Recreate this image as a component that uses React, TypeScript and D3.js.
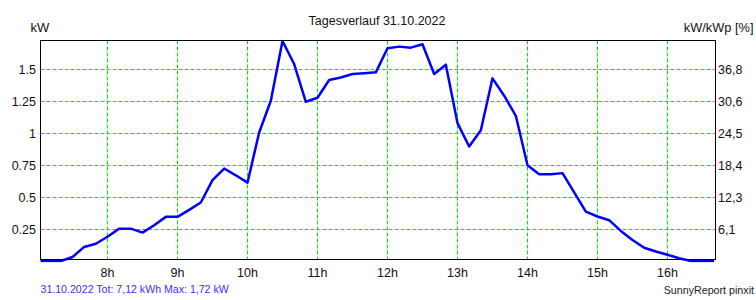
import React from "react";
import * as d3 from "d3";

const times = [
  "7:00","7:10","7:20","7:30","7:40","7:50",
  "8:00","8:10","8:20","8:30","8:40","8:50",
  "9:00","9:10","9:20","9:30","9:40","9:50",
  "10:00","10:10","10:20","10:30","10:40","10:50",
  "11:00","11:10","11:20","11:30","11:40","11:50",
  "12:00","12:10","12:20","12:30","12:40","12:50",
  "13:00","13:10","13:20","13:30","13:40","13:50",
  "14:00","14:10","14:20","14:30","14:40","14:50",
  "15:00","15:10","15:20","15:30","15:40","15:50",
  "16:00","16:10","16:20","16:30","16:40",
];
const powerKW = [
  0, 0, 0, 0.031, 0.11, 0.135,
  0.19, 0.253, 0.253, 0.222, 0.28, 0.345,
  0.345, 0.4, 0.457, 0.632, 0.723, 0.67,
  0.613, 1.005, 1.253, 1.72, 1.54, 1.245,
  1.276, 1.415, 1.435, 1.462, 1.468, 1.475,
  1.663, 1.676, 1.668, 1.694, 1.462, 1.535,
  1.078, 0.895, 1.023, 1.428, 1.292, 1.135,
  0.749, 0.679, 0.679, 0.687, 0.536, 0.386,
  0.348, 0.319, 0.235, 0.164, 0.104, 0.074,
  0.049, 0.021, 0, 0, 0,
];
const leftTicks = [0.25, 0.5, 0.75, 1, 1.25, 1.5];
const leftTickLabels = ["0.25", "0.5", "0.75", "1", "1.25", "1.5"];
const rightTickLabels = ["6,1", "12,3", "18,4", "24,5", "30,6", "36,8"];
const hourTicks = [8, 9, 10, 11, 12, 13, 14, 15, 16];
const hourLabels = ["8h", "9h", "10h", "11h", "12h", "13h", "14h", "15h", "16h"];
const title = "Tagesverlauf 31.10.2022";
const footerLeft = "31.10.2022 Tot: 7,12 kWh Max: 1,72 kW";
const footerRight = "SunnyReport pinxit";
const yMax = 1.72;

const W = 756, H = 300;
const L = 40.5, R = 715.5, T = 40.5, B = 259.5;
const FONT = "'Liberation Sans', Arial, sans-serif";
const GRID = "rgb(0,238,0)";

function toHour(t: string) {
  const [h, m] = t.split(":").map(Number);
  return h + m / 60;
}

export default function App() {
  const x = d3.scaleLinear().domain([8, 16]).range([107.5, 667.5]);
  const y = d3.scaleLinear().domain([0, yMax]).range([261, 41]);
  const data = times.map((t, i) => ({ h: toHour(t), v: powerKW[i] }));
  const line = d3.line<{ h: number; v: number }>().x(d => x(d.h)).y(d => y(d.v));
  return (
    <svg width={W} height={H} style={{ position: "absolute", left: 0, top: 0, background: "#fff" }} fontFamily={FONT}>
      <defs>
        <clipPath id="plotclip">
          <rect x={L} y={T - 3} width={R - L} height={B - T + 6} />
        </clipPath>
      </defs>
      <rect x={0} y={0} width={W} height={H} fill="#fff" />
      <g style={{ stroke: GRID }} fill="none">
        {leftTicks.map((v, i) => (
          <line key={"hg" + i} x1={L} x2={R} y1={Math.round(y(v)) + 0.5} y2={Math.round(y(v)) + 0.5}
            stroke={GRID} strokeWidth={1} strokeDasharray="4,2" />
        ))}
        {hourTicks.map((h, i) => (
          <line key={"vg" + i} x1={x(h)} x2={x(h)} y1={T} y2={B}
            stroke={GRID} strokeWidth={1} strokeDasharray="4,2" />
        ))}
      </g>
      <path d={line(data) || ""} fill="none" stroke="#0000ff" strokeWidth={2.5} clipPath="url(#plotclip)" strokeLinejoin="round" />
      <rect x={L} y={T} width={R - L} height={B - T} fill="none" stroke="#000" strokeWidth={1} />
      {leftTicks.map((v, i) => (
        <text key={"lt" + i} x={36} y={Math.round(y(v)) + 5} textAnchor="end" fontSize={12.5} fill="#111">{leftTickLabels[i]}</text>
      ))}
      {leftTicks.map((v, i) => (
        <text key={"rt" + i} x={718} y={Math.round(y(v)) + 5} textAnchor="start" fontSize={12.5} fill="#111">{rightTickLabels[i]}</text>
      ))}
      {hourTicks.map((h, i) => (
        <text key={"xt" + i} x={x(h)} y={277} textAnchor="middle" fontSize={12.5} fill="#111">{hourLabels[i]}</text>
      ))}
      <text x={377} y={24.5} textAnchor="middle" fontSize={12.5} fill="#111">{title}</text>
      <text x={30.5} y={32} textAnchor="start" fontSize={13} fill="#111">kW</text>
      <text x={753.5} y={31.5} textAnchor="end" fontSize={12.8} fill="#111">kW/kWp [%]</text>
      <text x={40.5} y={292.5} textAnchor="start" fontSize={10.6} fill="#3333ff">{footerLeft}</text>
      <text x={754} y={294} textAnchor="end" fontSize={10.7} fill="#222">{footerRight}</text>
    </svg>
  );
}
